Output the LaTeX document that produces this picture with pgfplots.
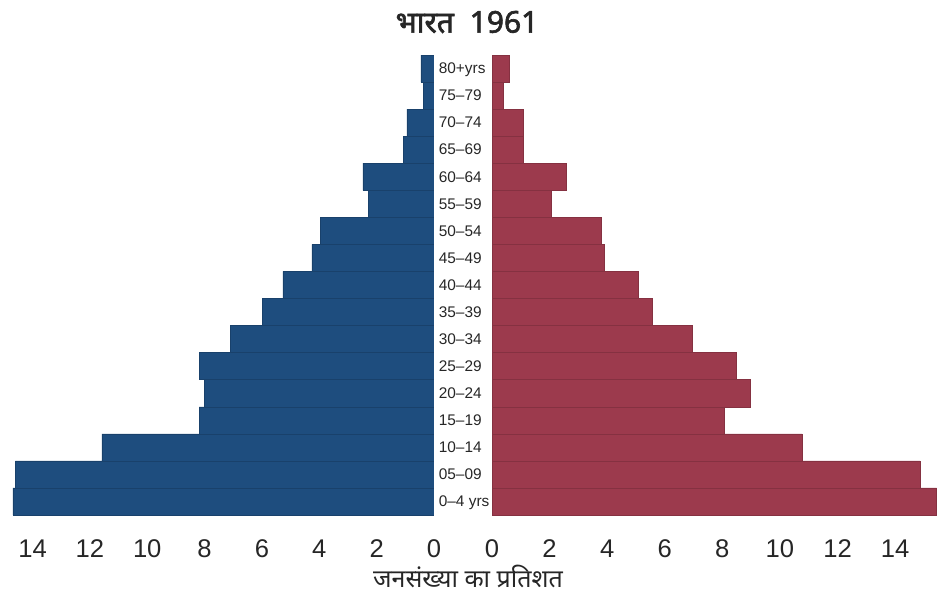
\documentclass[border=0pt]{standalone}
\usepackage{fontspec}
\setmainfont{Liberation Sans}
\newfontfamily\hindi[Script=Devanagari]{Noto Sans}
\newfontfamily\hindib[Script=Devanagari, FakeBold=2.2]{Noto Sans}
\usepackage{pgfplots}
\usepackage{pgfplotstable}
\pgfplotsset{compat=1.18}
\definecolor{mblue}{HTML}{1E4D7E}
\definecolor{fred}{HTML}{9C3A4D}

\pgfplotstableread{
age male female
0 14.69 15.44
1 14.60 14.86
2 11.58 10.77
3 8.19 8.07
4 8.01 8.98
5 8.19 8.47
6 7.11 6.97
7 5.98 5.58
8 5.27 5.08
9 4.26 3.89
10 3.97 3.78
11 2.29 2.07
12 2.48 2.59
13 1.07 1.09
14 0.95 1.09
15 0.37 0.39
16 0.46 0.59
}\pyr

\pgfplotsset{pyr/.style={
  xbar, bar width=1, bar shift=0,
  scale only axis, height=230pt,
  ymin=-0.5, ymax=16.5, xmin=0,
  axis line style={draw=none}, tick style={draw=none},
  xtick={0,2,...,14},
  xticklabel style={font=\fontsize{12.8}{14}\selectfont, anchor=base, yshift=-21pt, text=black!85},
  /pgf/number format/assume math mode=true,
  anchor=south west,
}}

\begin{document}
\begin{tikzpicture}
\useasboundingbox (0,0) rectangle (469pt,298pt);
\begin{axis}[pyr, width=216.5pt, xmax=15.1, x dir=reverse, at={(0.5pt,40.5pt)}, ytick=\empty]
\addplot[fill=mblue, draw=mblue!85!black, line width=0.25pt] table[x=male,y=age]{\pyr};
\end{axis}
\begin{axis}[pyr, width=223pt, xmax=15.49, at={(246pt,40.5pt)},
  ytick={0,...,16},
  yticklabels={0--4 yrs,05--09,10--14,15--19,20--24,25--29,30--34,35--39,40--44,45--49,50--54,55--59,60--64,65--69,70--74,75--79,80+yrs},
  yticklabel style={anchor=mid west, inner xsep=0pt, xshift=-22.5pt, font=\fontsize{7.7}{9}\selectfont, text=black!85}]
\addplot[fill=fred, draw=fred!85!black, line width=0.25pt] table[x=female,y=age]{\pyr};
\end{axis}
\node[font=\hindib\fontsize{15}{17}\selectfont, text=black!85] at (233.5pt,287pt) {भारत\hspace{4pt} 1961};
\node[font=\hindi\fontsize{12.5}{14}\selectfont, text=black!85] at (234pt,10pt) {जनसंख्या का प्रतिशत};
\end{tikzpicture}
\end{document}
